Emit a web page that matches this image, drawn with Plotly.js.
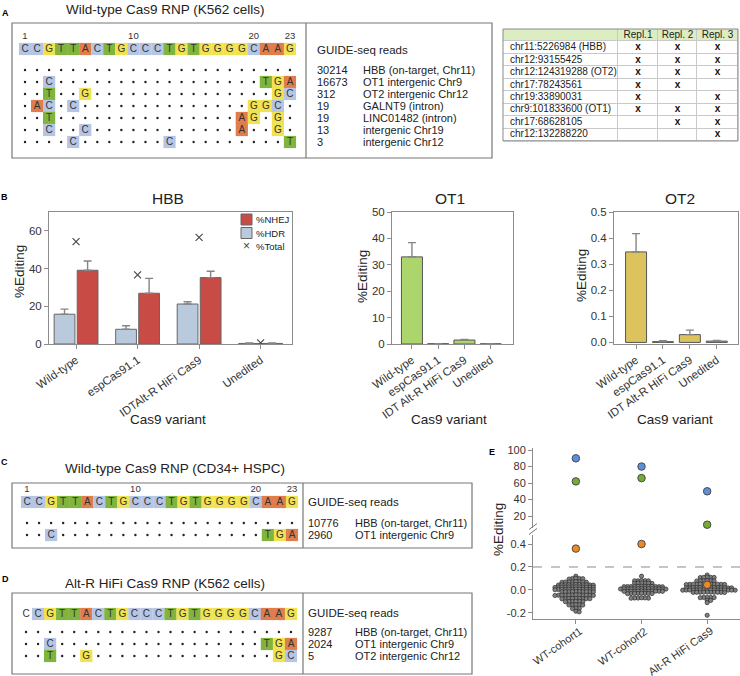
<!DOCTYPE html>
<html><head><meta charset="utf-8">
<script src="https://cdn.plot.ly/plotly-3.0.1.min.js"></script>
<style>html,body{margin:0;padding:0;background:#fff}#chart{width:740px;height:676px}</style>
</head><body><div id="chart"></div>
<script>
// ================= DATA =================
const guideSeq = ["C","C","G","T","T","A","C","T","G","C","C","C","T","G","T","G","G","G","G","C","A","A","G"];
const seqNumLabels = ["1","10","20","23"];
const seqNumPos = [0, 9, 19, 22];

// Panel A: Wild-type Cas9 RNP (K562 cells)
const mismatchA = [
  {},
  {2:"C", 20:"T", 21:"G", 22:"A"},
  {2:"T", 5:"G", 21:"G", 22:"C"},
  {1:"A", 2:"C", 4:"C", 19:"G", 20:"G", 21:"C"},
  {2:"T", 18:"A", 19:"G", 21:"G"},
  {2:"C", 5:"C", 18:"A", 21:"G"},
  {4:"C", 12:"C", 22:"T"}
];
const readsA = ["30214","16673","312","19","19","13","3"];
const sitesA = ["HBB (on-target, Chr11)","OT1 intergenic Chr9","OT2 intergenic Chr12","GALNT9 (intron)","LINC01482 (intron)","intergenic Chr19","intergenic Chr12"];

// Panel C: Wild-type Cas9 RNP (CD34+ HSPC)
const mismatchC = [ {}, {2:"C", 20:"T", 21:"G", 22:"A"} ];
const readsC = ["10776","2960"];
const sitesC = ["HBB (on-target, Chr11)","OT1 intergenic Chr9"];

// Panel D: Alt-R HiFi Cas9 RNP (K562 cells)
const mismatchD = [ {}, {2:"C", 20:"T", 21:"G", 22:"A"}, {2:"T", 5:"G", 21:"G", 22:"C"} ];
const readsD = ["9287","2024","5"];
const sitesD = ["HBB (on-target, Chr11)","OT1 intergenic Chr9","OT2 intergenic Chr12"];

// Replicate table
const tableHeader = ["Repl.1","Repl. 2","Repl. 3"];
const tableSites = ["chr11:5226984 (HBB)","chr12:93155425","chr12:124319288 (OT2)","chr17:78243561","chr19:33890031","chr9:101833600 (OT1)","chr17:68628105","chr12:132288220"];
const repl1 = [1,1,1,1,1,1,0,0];
const repl2 = [1,1,1,1,0,1,1,0];
const repl3 = [1,1,1,0,1,1,1,1];

// Panel B
const variantsHBB = ["Wild-type","espCas91.1","IDTAlt-R HiFi Cas9","Unedited"];
const variantsOT  = ["Wild-type","espCas91.1","IDT Alt-R HiFi Cas9","Unedited"];
const hbbHDR = [15.8, 7.8, 21.2, 0.3];
const hbbHDRerr = [2.7, 1.9, 1.2, 0.2];
const hbbNHEJ = [39.1, 26.9, 35.2, 0.3];
const hbbNHEJerr = [4.9, 7.9, 3.4, 0.2];
const hbbTotal = [54.3, 36.6, 56.6, 0.6];
const ot1Vals = [33.0, 0.1, 1.5, 0.05];
const ot1Err = [5.4, 0.05, 0.2, 0.03];
const ot2Vals = [0.347, 0.003, 0.030, 0.005];
const ot2Err = [0.070, 0.004, 0.017, 0.003];
const legendNames = ["%NHEJ","%HDR","%Total"];

// Panel E
const cohorts = ["WT-cohort1","WT-cohort2","Alt-R HiFi Cas9"];
const eBlue = [90, 80, 50];
const eGreen = [62, 66, 9.5];
const eOrange = [0.36, 0.40, 0.045];
const threshold = 0.2;
const swarmWT1 = [0.12,
 0.10,0.10,0.098,0.102,0.095,
 0.072,0.07,0.068,0.07,0.073,0.067,0.07,0.069,
 0.045,0.047,0.043,0.045,0.046,0.044,0.045,0.048,0.042,0.045,0.046,
 0.025,0.024,0.026,0.025,0.027,0.023,0.025,0.024,0.026,0.025,0.022,0.028,
 0.005,0.004,0.006,0.005,0.003,0.007,0.005,0.004,0.006,0.005,0.002,0.008,
 -0.015,-0.014,-0.016,-0.015,-0.013,-0.017,-0.015,-0.014,-0.016,-0.015,
 -0.045,-0.044,-0.046,-0.045,-0.043,-0.047,-0.045,-0.044,-0.046,-0.045,-0.042,-0.048,
 -0.075,-0.074,-0.076,-0.075,-0.073,-0.077,-0.075,-0.074,-0.076,
 -0.10,-0.101,-0.099,-0.10,-0.102,-0.098,
 -0.13,-0.129,-0.131,-0.13,-0.128,
 -0.16,-0.158,-0.162,
 -0.185,-0.19];
const swarmWT2 = [0.12,
 0.08,0.081,0.079,0.08,0.082,
 0.058,0.06,0.057,0.061,0.059,0.06,
 0.032,0.03,0.031,0.029,0.033,0.03,0.028,0.031,0.032,0.03,0.029,0.031,
 0.012,0.01,0.011,0.009,0.013,0.01,0.008,0.011,0.012,0.01,0.009,0.011,0.01,0.012,
 -0.01,-0.011,-0.009,-0.01,-0.012,-0.008,-0.01,-0.011,-0.009,-0.01,-0.012,-0.01,
 -0.03,-0.031,-0.029,-0.03,-0.032,-0.028,-0.03,-0.031,
 -0.07,-0.071,-0.069,-0.07,-0.072,-0.068];
const swarmHiFi = [0.13,
 0.11,0.112,0.108,0.11,0.109,
 0.08,0.081,0.079,0.08,0.082,0.078,
 0.05,0.051,0.049,0.05,0.052,0.048,0.05,0.051,0.049,0.05,0.053,0.047,
 0.02,0.021,0.019,0.02,0.022,0.018,0.02,0.021,0.019,0.02,0.022,0.018,0.02,0.021,
 0.0,0.001,-0.001,0.0,0.002,-0.002,0.0,0.001,-0.001,0.0,0.002,-0.002,0.0,0.001,-0.001,0.0,
 -0.02,-0.021,-0.019,-0.02,-0.022,-0.018,-0.02,-0.021,-0.019,-0.02,
 -0.065,-0.066,-0.064,-0.065,-0.067,
 -0.09,-0.091,
 -0.11,
 -0.22];

// ================= LAYOUT HELPERS =================
const W = 740, H = 676;
const X = p => p / W, Y = p => 1 - p / H;
const FONT = "Liberation Sans, Arial, Helvetica, sans-serif";
const baseColor = {C:"#b6c5e3", G:"#f1e251", T:"#80b43c", A:"#df7d4d"};
const colHDR = '#b8cadb', colNHEJ = '#c94b45', colOT1 = '#acd56b', colOT2 = '#dcc35d';
const data = [];
const annotations = [];
const shapes = [];

function ann(text, px, py, o) {
  annotations.push(Object.assign({text, x:X(px), y:Y(py), xref:'paper', yref:'paper', showarrow:false,
    xanchor:'center', yanchor:'middle', font:{family:FONT, size:11, color:'#222'}}, o||{}));
}
function rowAnn(text, px, yref, yv, size) {
  annotations.push({text, x:X(px), y:yv, xref:'paper', yref:yref, showarrow:false,
    xanchor:'left', yanchor:'middle', font:{family:FONT, size:size||11, color:'#222'}});
}
function box(x0,y0,x1,y1,div) {
  shapes.push({type:'rect', xref:'paper', yref:'paper', x0:X(x0), x1:X(x1), y0:Y(y1), y1:Y(y0), line:{color:'#777', width:1.2}});
  if (div) shapes.push({type:'line', xref:'paper', yref:'paper', x0:X(div), x1:X(div), y0:Y(y1), y1:Y(y0), line:{color:'#777', width:1.2}});
}

function addGrid(xa, ya, seqY, mism, numbered, plainFirst) {
  const idx = guideSeq.map((_, i) => i);
  data.push({type:'scatter', mode:'markers+text', xaxis:xa, yaxis:ya, x:idx, y:idx.map(() => seqY),
    text:guideSeq, textposition:'middle center', textfont:{family:FONT, size:10, color:'#333'},
    marker:{symbol:'square', size:12.2, color:guideSeq.map((b,i) => (plainFirst && i===0) ? 'rgba(0,0,0,0)' : baseColor[b]), line:{width:0}},
    hoverinfo:'skip', showlegend:false, cliponaxis:false});
  if (numbered) {
    data.push({type:'scatter', mode:'text', xaxis:xa, yaxis:ya, x:seqNumPos, y:seqNumPos.map(() => seqY - 1),
      text:seqNumLabels, textposition:'middle center', textfont:{family:FONT, size:9.5, color:'#333'},
      hoverinfo:'skip', showlegend:false, cliponaxis:false});
  }
  const mx=[], my=[], mt=[], mc=[], dx=[], dy=[];
  mism.forEach((m, r) => {
    idx.forEach(i => {
      if (m[i]) { mx.push(i); my.push(r); mt.push(m[i]); mc.push(baseColor[m[i]]); }
      else { dx.push(i); dy.push(r); }
    });
  });
  data.push({type:'scatter', mode:'markers', xaxis:xa, yaxis:ya, x:dx, y:dy,
    marker:{symbol:'circle', size:2.4, color:'#222'}, hoverinfo:'skip', showlegend:false, cliponaxis:false});
  data.push({type:'scatter', mode:'markers+text', xaxis:xa, yaxis:ya, x:mx, y:my, text:mt,
    textposition:'middle center', textfont:{family:FONT, size:10, color:'#333'},
    marker:{symbol:'square', size:12.2, color:mc, line:{width:0}}, hoverinfo:'skip', showlegend:false, cliponaxis:false});
}

// ---------- Panel A ----------
ann("<b>A</b>", 5, 13, {font:{family:FONT, size:9, color:'#000'}});
ann("Wild-type Cas9 RNP (K562 cells)", 165, 9, {font:{family:FONT, size:13.5, color:'#222'}});
box(12, 23, 492, 158, 306);
addGrid('x', 'y', -1.75, mismatchA, true, false);
rowAnn("GUIDE-seq reads", 315, 'y', -1.67, 11.5);
readsA.forEach((r,i) => rowAnn(r, 315, 'y', i, 11));
sitesA.forEach((s,i) => rowAnn(s, 361, 'y', i, 11));

// ---------- Table ----------
const nRows = tableSites.length;
const zTab = [[1,1,1,1]].concat(tableSites.map(() => [0,0,0,0]));
const yEdges = [];
for (let i = -1; i <= nRows; i++) yEdges.push(i - 0.5);
const colEdges = [0, 115, 155, 194, 235];
const colCenters = [135, 174.5, 214.5];
shapes.push({type:'rect', xref:'paper', yref:'paper', layer:'below', x0:X(503), x1:X(738), y0:Y(141), y1:Y(29), fillcolor:'#c9c9c9', line:{width:0}});
data.push({type:'heatmap', xaxis:'x9', yaxis:'y9', x:colEdges, y:yEdges, z:zTab, zmin:0, zmax:1,
  colorscale:[[0,'#ffffff'],[1,'#dcedc1']], showscale:false, xgap:1, ygap:1, hoverinfo:'skip'});
data.push({type:'scatter', mode:'text', xaxis:'x9', yaxis:'y9', x:tableSites.map(() => 7), y:tableSites.map((_,i) => i),
  text:tableSites, textposition:'middle right', textfont:{family:FONT, size:10, color:'#222'}, hoverinfo:'skip', showlegend:false, cliponaxis:false});
data.push({type:'scatter', mode:'text', xaxis:'x9', yaxis:'y9', x:colCenters, y:[-1,-1,-1],
  text:tableHeader, textposition:'middle center', textfont:{family:FONT, size:10, color:'#222'}, hoverinfo:'skip', showlegend:false, cliponaxis:false});
[repl1, repl2, repl3].forEach((rep, c) => {
  const ys = []; rep.forEach((v,i) => { if (v) ys.push(i); });
  data.push({type:'scatter', mode:'text', xaxis:'x9', yaxis:'y9', x:ys.map(() => colCenters[c]), y:ys,
    text:ys.map(() => 'x'), textposition:'middle center', textfont:{family:FONT, size:10, color:'#111', weight:'bold'},
    hoverinfo:'skip', showlegend:false, cliponaxis:false});
});
shapes.push({type:'rect', xref:'paper', yref:'paper', x0:X(503), x1:X(738), y0:Y(141), y1:Y(29), line:{color:'#8a8a8a', width:1}});

// ---------- Panel B ----------
ann("<b>B</b>", 4, 197, {font:{family:FONT, size:9, color:'#000'}});
ann("HBB", 168, 198, {font:{family:FONT, size:15.5, color:'#222'}});
ann("OT1", 450, 198, {font:{family:FONT, size:15.5, color:'#222'}});
ann("OT2", 680, 198, {font:{family:FONT, size:15.5, color:'#222'}});
[168, 449, 675].forEach(px => ann("Cas9 variant", px, 419, {font:{family:FONT, size:13.5, color:'#222'}}));
ann("%Editing", 19, 272, {textangle:-90, font:{family:FONT, size:13.5, color:'#222'}});
ann("%Editing", 363, 277, {textangle:-90, font:{family:FONT, size:13.5, color:'#222'}});
ann("%Editing", 581, 276, {textangle:-90, font:{family:FONT, size:13.5, color:'#222'}});

// manual legend (HBB)
shapes.push({type:'rect', xref:'paper', yref:'paper', x0:X(241), x1:X(252), y0:Y(225), y1:Y(214), fillcolor:colNHEJ, line:{color:'#666', width:1}});
shapes.push({type:'rect', xref:'paper', yref:'paper', x0:X(241), x1:X(252), y0:Y(238.5), y1:Y(227.5), fillcolor:colHDR, line:{color:'#666', width:1}});
ann("×", 246.5, 246, {font:{family:FONT, size:12, color:'#444'}});
legendNames.forEach((t,i) => ann(t, 254, 219.5 + i*13.5, {xanchor:'left', font:{family:FONT, size:9.5, color:'#222'}}));

const errStyle = (arr) => ({type:'data', array:arr, arrayminus:arr.map(() => 0), symmetric:false, visible:true, color:'#858585', thickness:1.4, width:4});
data.push({type:'bar', name:'%HDR', xaxis:'x4', yaxis:'y4', x:variantsHBB, y:hbbHDR,
  marker:{color:colHDR, line:{color:'#666', width:1}}, error_y:errStyle(hbbHDRerr), hoverinfo:'skip', showlegend:false});
data.push({type:'bar', name:'%NHEJ', xaxis:'x4', yaxis:'y4', x:variantsHBB, y:hbbNHEJ,
  marker:{color:colNHEJ, line:{color:'#666', width:1}}, error_y:errStyle(hbbNHEJerr), hoverinfo:'skip', showlegend:false});
data.push({type:'scatter', mode:'markers', name:'%Total', xaxis:'x4', yaxis:'y4', x:variantsHBB, y:hbbTotal,
  marker:{symbol:'x-thin-open', size:7, color:'#444', line:{width:1.1, color:'#444'}}, hoverinfo:'skip', showlegend:false});
data.push({type:'bar', xaxis:'x5', yaxis:'y5', x:variantsOT, y:ot1Vals, width:0.8, showlegend:false,
  marker:{color:colOT1, line:{color:'#555', width:1}}, error_y:errStyle(ot1Err), hoverinfo:'skip'});
data.push({type:'bar', xaxis:'x6', yaxis:'y6', x:variantsOT, y:ot2Vals, width:0.78, showlegend:false,
  marker:{color:colOT2, line:{color:'#555', width:1}}, error_y:errStyle(ot2Err), hoverinfo:'skip'});

// ---------- Panel C ----------
ann("<b>C</b>", 4, 462, {font:{family:FONT, size:9, color:'#000'}});
ann("Wild-type Cas9 RNP (CD34+ HSPC)", 175, 468, {font:{family:FONT, size:13.5, color:'#222'}});
box(12, 483, 472, 548, 303);
addGrid('x2', 'y2', -1.75, mismatchC, true, false);
rowAnn("GUIDE-seq reads", 306, 'y2', -1.75, 11.5);
readsC.forEach((r,i) => rowAnn(r, 306, 'y2', i, 11));
sitesC.forEach((s,i) => rowAnn(s, 353, 'y2', i, 11));

// ---------- Panel D ----------
ann("<b>D</b>", 5, 579, {font:{family:FONT, size:9, color:'#000'}});
ann("Alt-R HiFi Cas9 RNP (K562 cells)", 165, 583, {font:{family:FONT, size:13.5, color:'#222'}});
box(12, 593, 472, 674, 303);
addGrid('x3', 'y3', -1.5, mismatchD, false, true);
rowAnn("GUIDE-seq reads", 306, 'y3', -1.58, 11.5);
readsD.forEach((r,i) => rowAnn(r, 306, 'y3', i, 11));
sitesD.forEach((s,i) => rowAnn(s, 353, 'y3', i, 11));

// ---------- Panel E ----------
ann("<b>E</b>", 492, 452, {font:{family:FONT, size:9, color:'#000'}});
ann("%Editing", 498, 530, {textangle:-90, font:{family:FONT, size:13.5, color:'#222'}});
const eX = {d0:533, d1:740, r0:-0.653, r1:2.5};
const eLow = {p0:619.3, p1:534.8, r0:-0.255, r1:0.48};
const pxPerX = (eX.d1 - eX.d0) / (eX.r1 - eX.r0);
const pxPerY = (eLow.p0 - eLow.p1) / (eLow.r1 - eLow.r0);
// beeswarm layout (horizontal offsets derived from the values; vertical distances weighted so rows pack)
function swarm(vals, d, yScale) {
  const order = vals.map((v,i) => i).sort((a,b) => vals[b] - vals[a]);
  const placed = [], off = new Array(vals.length);
  for (const i of order) {
    const y = vals[i] * pxPerY * yScale;
    const cands = [0];
    for (const p of placed) {
      const dy = Math.abs(p.y - y);
      if (dy < d) { const dx = Math.sqrt(d*d - dy*dy); cands.push(p.x + dx, p.x - dx); }
    }
    cands.sort((a,b) => Math.abs(a) - Math.abs(b));
    let chosen = 0;
    for (const c of cands) {
      if (placed.every(p => (p.x - c)**2 + (p.y - y)**2 >= d*d - 1e-6)) { chosen = c; break; }
    }
    placed.push({x:chosen, y}); off[i] = chosen;
  }
  return off;
}
[swarmWT1, swarmWT2, swarmHiFi].forEach((vals, c) => {
  const off = swarm(vals, 3.5, 2.0);
  data.push({type:'scatter', mode:'markers', xaxis:'x7', yaxis:'y7', x:off.map(o => c + o / pxPerX), y:vals,
    marker:{size:4.2, color:'#808080', line:{color:'#2b2b2b', width:0.7}}, hoverinfo:'skip', showlegend:false, cliponaxis:false});
});
function hiPts(vals, color) {
  const up = vals.map(v => v > 1);
  const ci = vals.map((_,i) => i);
  data.push({type:'scatter', mode:'markers', xaxis:'x7', yaxis:'y8', x:ci.filter(i => up[i]), y:vals.filter((_,i) => up[i]),
    marker:{size:7.5, color, line:{color:'#4a4a4a', width:1}}, hoverinfo:'skip', showlegend:false, cliponaxis:false});
  data.push({type:'scatter', mode:'markers', xaxis:'x7', yaxis:'y7', x:ci.filter(i => !up[i]), y:vals.filter((_,i) => !up[i]),
    marker:{size:7.5, color, line:{color:'#4a4a4a', width:1}}, hoverinfo:'skip', showlegend:false, cliponaxis:false});
}
hiPts(eBlue, '#5d8fdc');
hiPts(eGreen, '#74ac34');
hiPts(eOrange, '#ec8a25');
shapes.push({type:'line', xref:'x7 domain', x0:0, x1:1, yref:'y7', y0:threshold, y1:threshold, line:{color:'#8a8a8a', width:1, dash:'dash'}});
shapes.push({type:'line', xref:'paper', yref:'paper', x0:X(529), x1:X(537), y0:Y(529.5), y1:Y(523.5), line:{color:'#777', width:1}});
shapes.push({type:'line', xref:'paper', yref:'paper', x0:X(529), x1:X(537), y0:Y(534.5), y1:Y(528.5), line:{color:'#777', width:1}});
// category labels of panel E, placed at the axis categories
const tickE = {family:FONT, size:11, color:'#333'};
cohorts.forEach((c, i) => annotations.push({text:c, xref:'x7', x:i, yref:'paper', y:Y(622), xanchor:'right', yanchor:'top',
  xshift:11, textangle:-35, showarrow:false, font:tickE}));

// ================= AXES =================
const hidden = {visible:false, showgrid:false, zeroline:false, fixedrange:true};
const tickF = {family:FONT, size:11.5, color:'#333'};
const ax = (o) => Object.assign({showgrid:false, zeroline:false, showline:true, linecolor:'#8c8c8c', linewidth:1,
  ticks:'outside', ticklen:4, tickcolor:'#8c8c8c', tickfont:tickF, fixedrange:true}, o);

const layout = {
  width:W, height:H, margin:{l:0, r:0, t:0, b:0}, autosize:false,
  paper_bgcolor:'#ffffff', plot_bgcolor:'rgba(0,0,0,0)',
  font:{family:FONT, color:'#222'},
  barmode:'group', bargap:0.25, bargroupgap:0.1,
  showlegend:false, hovermode:false,
  xaxis: Object.assign({}, hidden, {domain:[X(19), X(296)], range:[-0.5, 22.5], anchor:'y'}),
  yaxis: Object.assign({}, hidden, {domain:[Y(154), Y(28)], range:[7, -3.5], anchor:'x'}),
  xaxis2: Object.assign({}, hidden, {domain:[X(21), X(298)], range:[-0.5, 22.5], anchor:'y2'}),
  yaxis2: Object.assign({}, hidden, {domain:[Y(547), Y(481)], range:[2, -3.5], anchor:'x2'}),
  xaxis3: Object.assign({}, hidden, {domain:[X(20), X(297)], range:[-0.5, 22.5], anchor:'y3'}),
  yaxis3: Object.assign({}, hidden, {domain:[Y(668), Y(596)], range:[3, -3], anchor:'x3'}),
  xaxis9: Object.assign({}, hidden, {domain:[X(503), X(738)], range:[0, 235], anchor:'y9'}),
  yaxis9: Object.assign({}, hidden, {domain:[Y(141), Y(29)], range:[nRows - 0.5, -1.5], anchor:'x9'}),
  xaxis4: ax({domain:[X(49), X(292)], range:[-0.44, 3.51], anchor:'y4', type:'category', tickangle:-35, mirror:true}),
  yaxis4: ax({domain:[Y(344), Y(212)], range:[0, 70], anchor:'x4', tickvals:[0,20,40,60], mirror:true}),
  xaxis5: ax({domain:[X(392), X(513)], range:[-0.76, 3.85], anchor:'y5', type:'category', tickangle:-35, mirror:true}),
  yaxis5: ax({domain:[Y(344), Y(212)], range:[0, 50], anchor:'x5', dtick:10, mirror:true}),
  xaxis6: ax({domain:[X(614), X(738)], range:[-0.82, 3.79], anchor:'y6', type:'category', tickangle:-35, mirror:true}),
  yaxis6: ax({domain:[Y(344), Y(212)], range:[-0.006, 0.5], anchor:'x6', dtick:0.1, tickformat:'.1f', mirror:true}),
  xaxis7: ax({domain:[X(eX.d0), X(eX.d1)], range:[eX.r0, eX.r1], anchor:'y7', tickvals:[0,1,2], showticklabels:false}),
  yaxis7: ax({domain:[Y(eLow.p0), Y(eLow.p1)], range:[eLow.r0, eLow.r1], anchor:'x7', tickvals:[-0.2,0,0.2,0.4], ticktext:["-0.2","0.0","0.2","0.4"], tickfont:tickE}),
  yaxis8: ax({domain:[Y(528.4), Y(448.4)], range:[5, 102], anchor:'x7', tickvals:[20,40,60,80,100], tickfont:tickE}),
  annotations, shapes
};
Plotly.newPlot('chart', data, layout, {displayModeBar:false, staticPlot:true});
</script></body></html>
